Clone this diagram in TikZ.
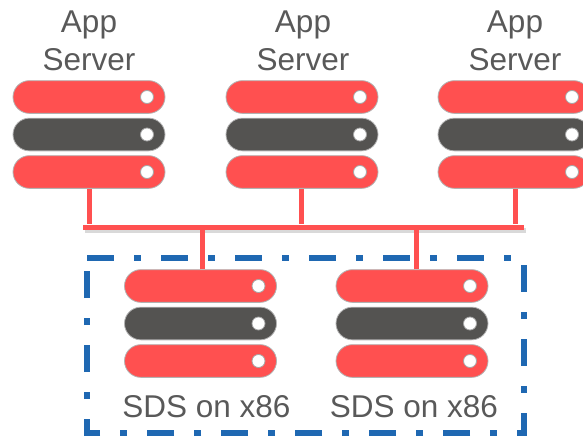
\documentclass[tikz,border=0pt]{standalone}
\usepackage{fontspec}
\setmainfont{Liberation Sans}
\usepackage{tikz}
\usetikzlibrary{positioning}
\usetikzlibrary{shapes.misc}
\usetikzlibrary{shadows}
\definecolor{barred}{HTML}{FF5050}
\definecolor{bardark}{HTML}{545351}
\definecolor{bartext}{HTML}{595959}
\definecolor{boxblue}{HTML}{1F68B2}
\begin{document}
\begin{tikzpicture}[
      x=1pt,y=-1pt,
      node distance=4pt,
      bar/.style={rounded rectangle,minimum width=152pt,minimum height=32.7pt,inner sep=0pt,
        draw=black!30,line width=0.8pt,
        path picture={\fill[white,draw=black!35,line width=0.8pt]
          ([xshift=-18pt]path picture bounding box.east) circle (6.5pt);}},
      redbar/.style={bar,fill=barred},
      darkbar/.style={bar,fill=bardark},
      tlabel/.style={font=\fontsize{31.5}{38}\selectfont,text=bartext,inner sep=0pt,align=center},
      wire/.style={draw=barred,line width=5pt},
    ]
        \clip (0,0) rectangle (583,436);
        % servers on top
        \node[redbar] (a1) at (89,97) {};
        \node[darkbar,below=of a1] (a2) {};
        \node[redbar,below=of a2] (a3) {};
        \node[tlabel,above=9pt of a1] (alabel) {App\\Server};
        \node[redbar] (b1) at (302,97) {};
        \node[darkbar,below=of b1] (b2) {};
        \node[redbar,below=of b2] (b3) {};
        \node[tlabel,above=9pt of b1,xshift=1pt] (blabel) {App\\Server};
        \node[redbar] (c1) at (514,97) {};
        \node[darkbar,below=of c1] (c2) {};
        \node[redbar,below=of c2] (c3) {};
        \node[tlabel,above=9pt of c1,xshift=1pt] (clabel) {App\\Server};
        % storage below
        \node[redbar] (d1) at (200.5,286) {};
        \node[darkbar,below=of d1] (d2) {};
        \node[redbar,below=of d2] (d3) {};
        \node[tlabel,below=17.5pt of d3,xshift=6pt] (dlabel) {SDS on x86};
        \node[redbar] (e1) at (412,286) {};
        \node[darkbar,below=of e1] (e2) {};
        \node[redbar,below=of e2] (e3) {};
        \node[tlabel,below=17.5pt of e3,xshift=2pt] (elabel) {SDS on x86};
        % bus
        \node[fill=barred,minimum width=441pt,minimum height=5pt,inner sep=0pt,
          drop shadow={shadow xshift=2pt,shadow yshift=-3pt,opacity=0.3}] (bus) at (303.5,227) {};
        \draw[wire] (a3.south) -- (a3.south |- bus.north);
        \draw[wire] ([xshift=-1pt]b3.south) -- ([xshift=-1pt]b3.south |- bus.north);
        \draw[wire] ([xshift=1pt]c3.south) -- ([xshift=1pt]c3.south |- bus.north);
        \draw[wire] ([xshift=1.5pt]d1.north) -- ([xshift=1.5pt]d1.north |- bus.south);
        \draw[wire] ([xshift=4pt]e1.north) -- ([xshift=4pt]e1.north |- bus.south);
        % dashed box
        \draw[boxblue,line width=6.5pt,dash pattern=on 27pt off 20pt on 7pt off 20pt]
          (87,258) -- (524,258) -- (524,433) -- (87,433) -- cycle;
    \end{tikzpicture}
\end{document}
